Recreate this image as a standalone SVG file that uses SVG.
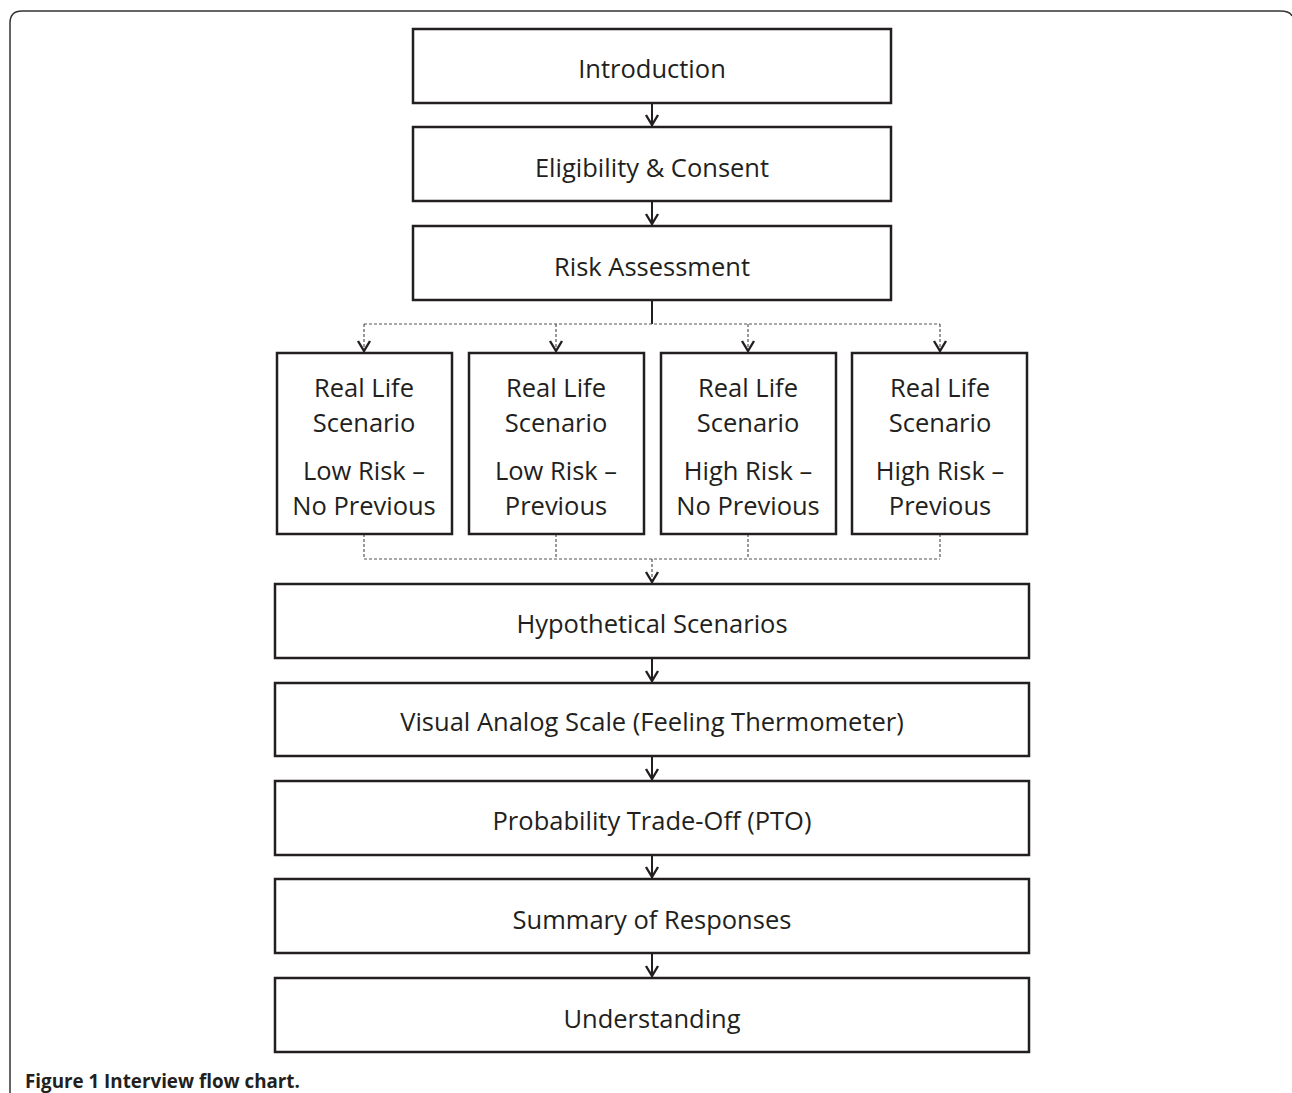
<svg xmlns="http://www.w3.org/2000/svg" width="1292" height="1093" viewBox="0 0 1292 1093">
<style>
.box{fill:#fff;stroke:#231f20;stroke-width:2.5}
.t{font-family:"Open Sans","Liberation Sans",sans-serif;font-size:25.5px;fill:#231f20;text-anchor:middle;dominant-baseline:central}
.solid{fill:none;stroke:#231f20;stroke-width:2}
.dash{fill:none;stroke:#555;stroke-width:1.2;stroke-dasharray:3 2}
.cap{font-family:"Open Sans","Liberation Sans",sans-serif;font-size:18.8px;font-weight:bold;fill:#231f20}
</style>
<defs>
<marker id="ah" viewBox="-8 -12 16 14" refX="0" refY="0" markerWidth="16" markerHeight="14" markerUnits="userSpaceOnUse" orient="0" overflow="visible">
<path d="M-6,-11 L0,-1 L6,-11" fill="none" stroke="#231f20" stroke-width="2.4"/>
</marker>
</defs>
<path d="M10,1093 L10,23 Q10,11 22,11 L1280,11 Q1290,11 1292,16" fill="none" stroke="#333" stroke-width="1.5"/>
<g id="connectors">
<line class="solid" x1="652" y1="103" x2="652" y2="126" marker-end="url(#ah)"/>
<line class="solid" x1="652" y1="201" x2="652" y2="225" marker-end="url(#ah)"/>
<line class="solid" x1="652" y1="300" x2="652" y2="324"/>
<line class="dash" x1="364" y1="324" x2="940" y2="324"/>
<line class="dash" x1="364" y1="324" x2="364" y2="352" marker-end="url(#ah)"/>
<line class="dash" x1="556" y1="324" x2="556" y2="352" marker-end="url(#ah)"/>
<line class="dash" x1="748" y1="324" x2="748" y2="352" marker-end="url(#ah)"/>
<line class="dash" x1="940" y1="324" x2="940" y2="352" marker-end="url(#ah)"/>
<line class="dash" x1="364" y1="534" x2="364" y2="559"/>
<line class="dash" x1="556" y1="534" x2="556" y2="559"/>
<line class="dash" x1="748" y1="534" x2="748" y2="559"/>
<line class="dash" x1="940" y1="534" x2="940" y2="559"/>
<line class="dash" x1="364" y1="559" x2="940" y2="559"/>
<line class="dash" x1="652" y1="559" x2="652" y2="583" marker-end="url(#ah)"/>
<line class="solid" x1="652" y1="658" x2="652" y2="682" marker-end="url(#ah)"/>
<line class="solid" x1="652" y1="756" x2="652" y2="780" marker-end="url(#ah)"/>
<line class="solid" x1="652" y1="855" x2="652" y2="878" marker-end="url(#ah)"/>
<line class="solid" x1="652" y1="953" x2="652" y2="977" marker-end="url(#ah)"/>
</g>
<g id="introduction"><rect class="box" x="413" y="29" width="478" height="74"/><text class="t" x="652" y="68">Introduction</text></g>
<g id="eligibility"><rect class="box" x="413" y="127" width="478" height="74"/><text class="t" x="652" y="167">Eligibility &amp; Consent</text></g>
<g id="risk"><rect class="box" x="413" y="226" width="478" height="74"/><text class="t" x="652" y="266">Risk Assessment</text></g>
<g id="s1"><rect class="box" x="277" y="353" width="175" height="181"/><text class="t" x="364" y="387">Real Life</text><text class="t" x="364" y="422">Scenario</text><text class="t" x="364" y="470">Low Risk –</text><text class="t" x="364" y="505">No Previous</text></g>
<g id="s2"><rect class="box" x="469" y="353" width="175" height="181"/><text class="t" x="556" y="387">Real Life</text><text class="t" x="556" y="422">Scenario</text><text class="t" x="556" y="470">Low Risk –</text><text class="t" x="556" y="505">Previous</text></g>
<g id="s3"><rect class="box" x="661" y="353" width="175" height="181"/><text class="t" x="748" y="387">Real Life</text><text class="t" x="748" y="422">Scenario</text><text class="t" x="748" y="470">High Risk –</text><text class="t" x="748" y="505">No Previous</text></g>
<g id="s4"><rect class="box" x="852" y="353" width="175" height="181"/><text class="t" x="940" y="387">Real Life</text><text class="t" x="940" y="422">Scenario</text><text class="t" x="940" y="470">High Risk –</text><text class="t" x="940" y="505">Previous</text></g>
<g id="hypothetical"><rect class="box" x="275" y="584" width="754" height="74"/><text class="t" x="652" y="623">Hypothetical Scenarios</text></g>
<g id="vas"><rect class="box" x="275" y="683" width="754" height="73"/><text class="t" x="652" y="721">Visual Analog Scale (Feeling Thermometer)</text></g>
<g id="pto"><rect class="box" x="275" y="781" width="754" height="74"/><text class="t" x="652" y="820">Probability Trade-Off (PTO)</text></g>
<g id="summary"><rect class="box" x="275" y="879" width="754" height="74"/><text class="t" x="652" y="919">Summary of Responses</text></g>
<g id="understanding"><rect class="box" x="275" y="978" width="754" height="74"/><text class="t" x="652" y="1018">Understanding</text></g>
<text class="cap" x="25" y="1088">Figure 1 Interview flow chart.</text>
</svg>
